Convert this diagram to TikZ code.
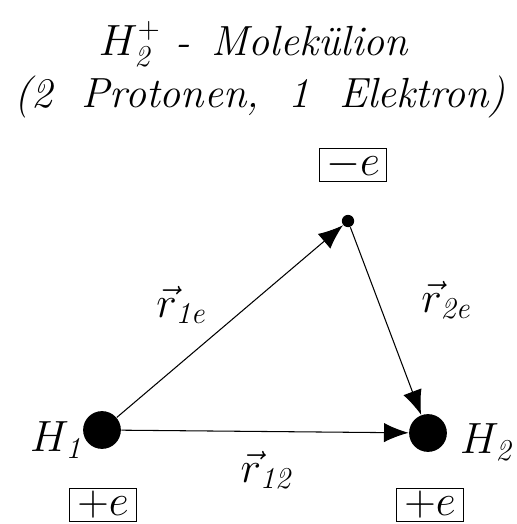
\documentclass[tikz,border=0pt]{standalone}
\usepackage{amsmath,amssymb}
\usepackage{tikz}
\usetikzlibrary{arrows.meta}
\DeclareMathSizes{24}{24}{19}{15}

\begin{document}
\begin{tikzpicture}[x=0.02cm, y=-0.02cm, >={Latex[length=14pt,width=11pt]}, line width=0.6pt,
  font=\fontsize{24}{29}\selectfont]
\tikzset{kern/.style={circle,fill,inner sep=0pt,minimum size=21.5pt},
  elek/.style={circle,fill,inner sep=0pt,minimum size=7pt},
  ladung/.style={draw,line width=0.5pt,inner sep=0pt,minimum width=38pt,minimum height=19pt}}
\useasboundingbox (0,0) rectangle (517,524);

\node (titel1) at (254,44) {\textit{$H_{\mathit 2}^+$ - \,Molekülion}};
\node (titel2) at (260,97) {\textit{(2 \ Protonen, \ 1 \ Elektron)}};

\node[kern] (h1) at (102,430) {};
\node[kern] (h2) at (428,433) {};
\node[elek] (el) at (348,221) {};

\draw[->] (h1) -- (el);
\draw[->] (el) -- (h2);
\draw[->] (h1) -- (h2);

\node (lh1) at (58,440) {$H_{\mathit 1}$};
\node (lh2) at (488,442) {$H_{\mathit 2}$};
\node (r1e) at (182,305) {$\vec r_{\mathit{1e}}$};
\node (r2e) at (447,300) {$\vec r_{\mathit{2e}}$};
\node (r12) at (268,470) {$\vec r_{\mathit{12}}$};

\node[ladung] (qe) at (353,165) {$-e$};
\node[ladung] (q1) at (103,505) {$+e$};
\node[ladung] (q2) at (430,505) {$+e$};
\end{tikzpicture}
\end{document}
